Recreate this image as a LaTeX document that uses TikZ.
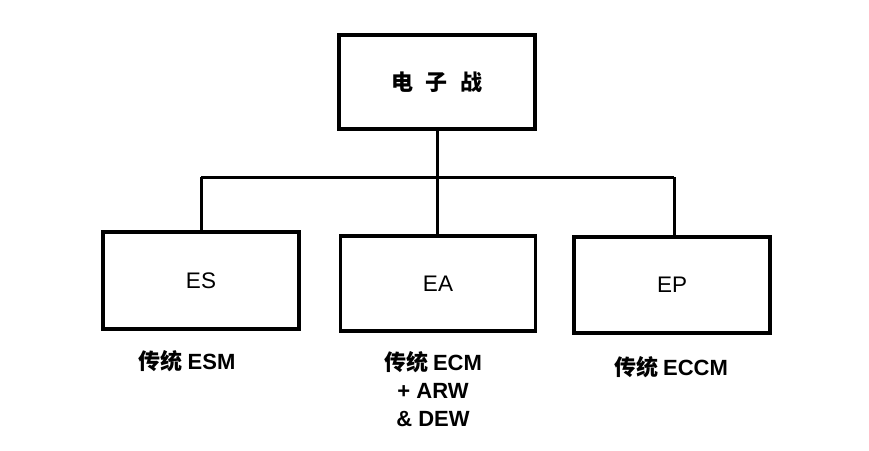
\documentclass[tikz,border=0pt]{standalone}
\usepackage{fontspec}
\setmainfont{Liberation Sans}
\newfontfamily\cjk{Noto Sans CJK SC}
\begin{document}
\begin{tikzpicture}[x=1pt,y=1pt,
  box/.style={draw=black,line width=3.2pt,rectangle,inner sep=0pt,
    font=\fontsize{22.5}{24}\selectfont},
  wire/.style={line width=3pt},
  lbl/.style={align=center,font=\fontsize{22}{28}\selectfont\bfseries}]
\useasboundingbox (0,0) rectangle (869,450);
\fill[white] (0,0) rectangle (869,450);
\node[box,minimum width=196pt,minimum height=94pt] (top) at (437,368)
  {\cjk\fontsize{22}{24}\selectfont\bfseries 电\hspace{13pt}子\hspace{13pt}战};
\node[box,minimum width=196pt,minimum height=97pt] (es) at (201,169.5) {ES};
\node[box,minimum width=195pt,minimum height=95pt] (ea) at (438,166.5) {EA};
\node[box,minimum width=196pt,minimum height=96pt] (ep) at (672,165) {EP};
\coordinate (busL) at (201,272.5);
\coordinate (busR) at (674,272.5);
\coordinate (busM) at (437,272.5);
\draw[wire] (busL) -- (busR);
\draw[wire] (top.south) -- (busM);
\draw[wire] (busL) -- (es.north -| busL);
\draw[wire] (busM) -- (ea.north -| busM);
\draw[wire] (busR) -- (ep.north -| busR);
\node[lbl] (les) at (187,89) {{\cjk 传统}\hspace{5pt}ESM};
\node[lbl] (lea) at (433,61) {{\cjk 传统}\hspace{5pt}ECM\\+ ARW\\\& DEW};
\node[lbl] (lep) at (671,83) {{\cjk 传统}\hspace{5pt}ECCM};
\end{tikzpicture}
\end{document}
